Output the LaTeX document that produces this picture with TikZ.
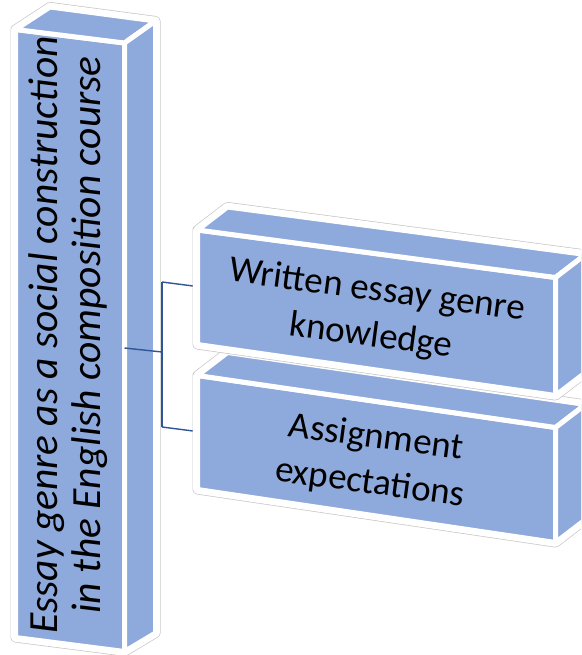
\documentclass[tikz,border=0pt]{standalone}
\usepackage{fontspec}
\setmainfont{Carlito}
\definecolor{boxblue}{HTML}{8EA9DB}
\definecolor{linkblue}{HTML}{2F5597}
\tikzset{
  halo/.style={draw=black!22, line width=10pt, line join=round, fill=white},
  halowhite/.style={draw=white, line width=8.6pt, line join=round},
  face/.style={fill=boxblue, draw=white, line width=5pt, line join=round},
  link/.style={draw=linkblue, line width=1.4pt},
  boxtext/.style={align=center, text=black, font=\fontsize{37}{46}\selectfont, rotate=-7.6},
  sidetext/.style={align=center, text=black, font=\fontsize{41.5}{43}\selectfont\itshape, rotate=90}
}
\begin{document}
\begin{tikzpicture}[x=1pt, y=-1pt]
\useasboundingbox (0,0) rectangle (581,655);
\clip (0,0) rectangle (581,655);

% ---- left tall box ----
\coordinate (LA) at (15.5,29.5);
\coordinate (LB) at (124.5,43);
\coordinate (LC) at (124.5,651.5);
\coordinate (LD) at (15.5,637.5);
\coordinate (LE) at (50,7);
\coordinate (LF) at (155.5,21);
\coordinate (LG) at (155.5,633);
\path[halo] (LA) -- (LE) -- (LF) -- (LG) -- (LC) -- (LD) -- cycle;
\path[halowhite] (LA) -- (LE) -- (LF) -- (LG) -- (LC) -- (LD) -- cycle;
\path[face] (LA) -- (LB) -- (LC) -- (LD) -- cycle;
\path[face] (LA) -- (LE) -- (LF) -- (LB) -- cycle;
\path[face] (LB) -- (LF) -- (LG) -- (LC) -- cycle;
\node[sidetext] (main) at (68,335) {Essay genre as a social construction\\in the English composition course};

% ---- connectors ----
\coordinate (c0) at (124.5,348);
\coordinate (c1) at (162,352);
\coordinate (c2) at (162,282);
\coordinate (c3) at (197,286.5);
\coordinate (c4) at (162,427);
\coordinate (c5) at (197,431.5);
\draw[link] (c0) -- (c1);
\draw[link] (c2) -- (c4);
\draw[link] (c2) -- (c3);
\draw[link] (c4) -- (c5);

% ---- box 2 ----
\coordinate (BA) at (197.5,375.5);
\coordinate (BB) at (555.5,427.5);
\coordinate (BC) at (555.5,542.5);
\coordinate (BD) at (197.5,489.5);
\coordinate (BE) at (227.5,352.5);
\coordinate (BF) at (585.5,404.5);
\coordinate (BG) at (585.5,519.5);
\path[halo] (BA) -- (BE) -- (BF) -- (BG) -- (BC) -- (BD) -- cycle;
\path[halowhite] (BA) -- (BE) -- (BF) -- (BG) -- (BC) -- (BD) -- cycle;
\path[face] (BA) -- (BB) -- (BC) -- (BD) -- cycle;
\path[face] (BA) -- (BE) -- (BF) -- (BB) -- cycle;
\path[face] (BB) -- (BF) -- (BG) -- (BC) -- cycle;
\node[boxtext] (assign) at (373,461) {Assignment\\expectations};

% ---- box 1 ----
\coordinate (AA) at (197.5,230);
\coordinate (AB) at (555.5,277.5);
\coordinate (AC) at (555.5,395.5);
\coordinate (AD) at (197.5,344.5);
\coordinate (AE) at (227.5,207);
\coordinate (AF) at (585.5,254.5);
\coordinate (AG) at (585.5,372.5);
\path[halo] (AA) -- (AE) -- (AF) -- (AG) -- (AC) -- (AD) -- cycle;
\path[halowhite] (AA) -- (AE) -- (AF) -- (AG) -- (AC) -- (AD) -- cycle;
\path[face] (AA) -- (AB) -- (AC) -- (AD) -- cycle;
\path[face] (AA) -- (AE) -- (AF) -- (AB) -- cycle;
\path[face] (AB) -- (AF) -- (AG) -- (AC) -- cycle;
\node[boxtext] (written) at (374,314) {Written essay genre\\knowledge};
\end{tikzpicture}
\end{document}
